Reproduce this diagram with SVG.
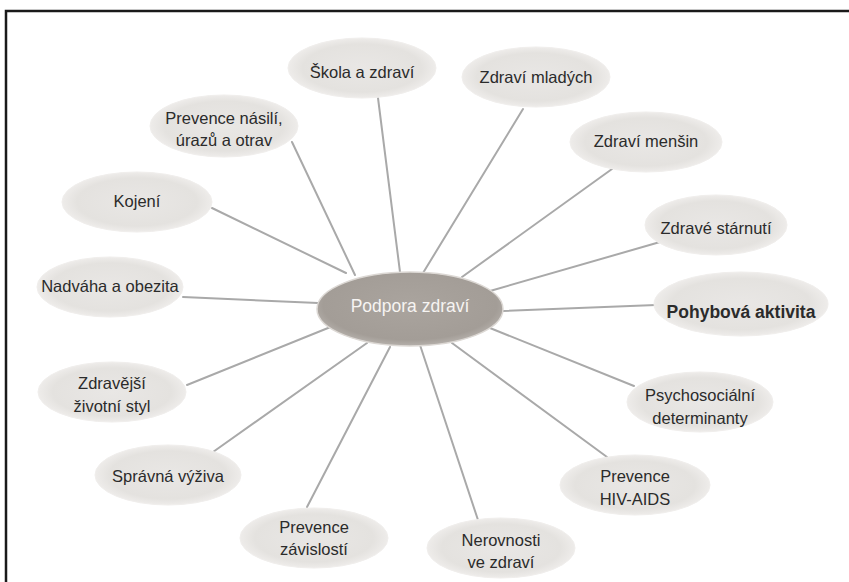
<svg xmlns="http://www.w3.org/2000/svg" width="849" height="582" viewBox="0 0 849 582">
<defs>
<radialGradient id="gOuter" cx="50%" cy="50%" r="50%">
<stop offset="0%" stop-color="#e9e7e5"/>
<stop offset="80%" stop-color="#e4e2df"/>
<stop offset="100%" stop-color="#eeecea"/>
</radialGradient>
<radialGradient id="gCenter" cx="50%" cy="45%" r="55%">
<stop offset="0%" stop-color="#aaa49e"/>
<stop offset="85%" stop-color="#a39d97"/>
<stop offset="100%" stop-color="#b5b0ab"/>
</radialGradient>
</defs>
<style>
.bg{fill:#ffffff}
.frame{fill:none;stroke:#1a1a1a;stroke-width:2.5}
.node ellipse{fill:url(#gOuter);stroke:#f0eeec;stroke-width:1}
.node text{font-family:"Liberation Sans",Arial,sans-serif;font-size:16.5px;fill:#2b2b2b;text-anchor:middle}
.center ellipse{fill:url(#gCenter);stroke:#dcd8d4;stroke-width:1.5}
.center text{font-family:"Liberation Sans",Arial,sans-serif;font-size:17.5px;fill:#f6f4f2;text-anchor:middle}
.conn line{stroke:#a9a9a9;stroke-width:2;stroke-linecap:round}
</style>
<rect class="bg" x="0" y="0" width="849" height="582"/>
<path class="frame" d="M6 600 V11 H860"/>
<g id="connectors" class="conn">
<line x1="378" y1="98" x2="400" y2="272"/>
<line x1="292" y1="142" x2="355" y2="275"/>
<line x1="523" y1="109" x2="423" y2="273"/>
<line x1="612" y1="169" x2="462" y2="277"/>
<line x1="660" y1="242" x2="490" y2="291"/>
<line x1="656" y1="305" x2="503" y2="311"/>
<line x1="634" y1="386" x2="485" y2="326"/>
<line x1="607" y1="457" x2="452" y2="343"/>
<line x1="478" y1="520" x2="420" y2="345"/>
<line x1="307" y1="507" x2="390" y2="347"/>
<line x1="213" y1="452" x2="367" y2="343"/>
<line x1="187" y1="385" x2="333" y2="326"/>
<line x1="183" y1="297" x2="318" y2="303"/>
<line x1="212" y1="208" x2="346" y2="273"/>
</g>
<g id="skola" class="node"><ellipse cx="362" cy="68" rx="74" ry="30"/><text x="362" y="78">Škola a zdraví</text></g>
<g id="nasili" class="node"><ellipse cx="224" cy="126" rx="74" ry="31"/><text x="224" y="124">Prevence násilí,</text><text x="224" y="146">úrazů a otrav</text></g>
<g id="mladych" class="node"><ellipse cx="536" cy="77" rx="74" ry="30"/><text x="536" y="83">Zdraví mladých</text></g>
<g id="mensin" class="node"><ellipse cx="646" cy="142" rx="76" ry="30"/><text x="646" y="147">Zdraví menšin</text></g>
<g id="starnuti" class="node"><ellipse cx="716" cy="225" rx="71" ry="30"/><text x="716" y="234">Zdravé stárnutí</text></g>
<g id="pohyb" class="node"><ellipse cx="741" cy="304" rx="87" ry="32"/><text x="741" y="318" font-weight="bold" style="font-size:17.5px">Pohybová aktivita</text></g>
<g id="psycho" class="node"><ellipse cx="700" cy="402" rx="73" ry="30"/><text x="700" y="401">Psychosociální</text><text x="700" y="424">determinanty</text></g>
<g id="hiv" class="node"><ellipse cx="635" cy="485" rx="75" ry="30"/><text x="635" y="482">Prevence</text><text x="635" y="505">HIV-AIDS</text></g>
<g id="nerovnosti" class="node"><ellipse cx="501" cy="548" rx="74" ry="30"/><text x="501" y="546">Nerovnosti</text><text x="501" y="568">ve zdraví</text></g>
<g id="zavislosti" class="node"><ellipse cx="314" cy="538" rx="74" ry="30"/><text x="314" y="533">Prevence</text><text x="314" y="555">závislostí</text></g>
<g id="vyziva" class="node"><ellipse cx="168" cy="475" rx="73" ry="30"/><text x="168" y="482">Správná výživa</text></g>
<g id="zdravejsi" class="node"><ellipse cx="112" cy="392" rx="74" ry="30"/><text x="112" y="389">Zdravější</text><text x="112" y="412">životní styl</text></g>
<g id="kojeni" class="node"><ellipse cx="137" cy="202" rx="75" ry="30"/><text x="137" y="207">Kojení</text></g>
<g id="nadvaha" class="node"><ellipse cx="110" cy="287" rx="73" ry="30"/><text x="110" y="292">Nadváha a obezita</text></g>
<g id="center" class="center"><ellipse cx="410" cy="309" rx="93" ry="37"/><text x="410" y="312">Podpora zdraví</text></g>
</svg>
